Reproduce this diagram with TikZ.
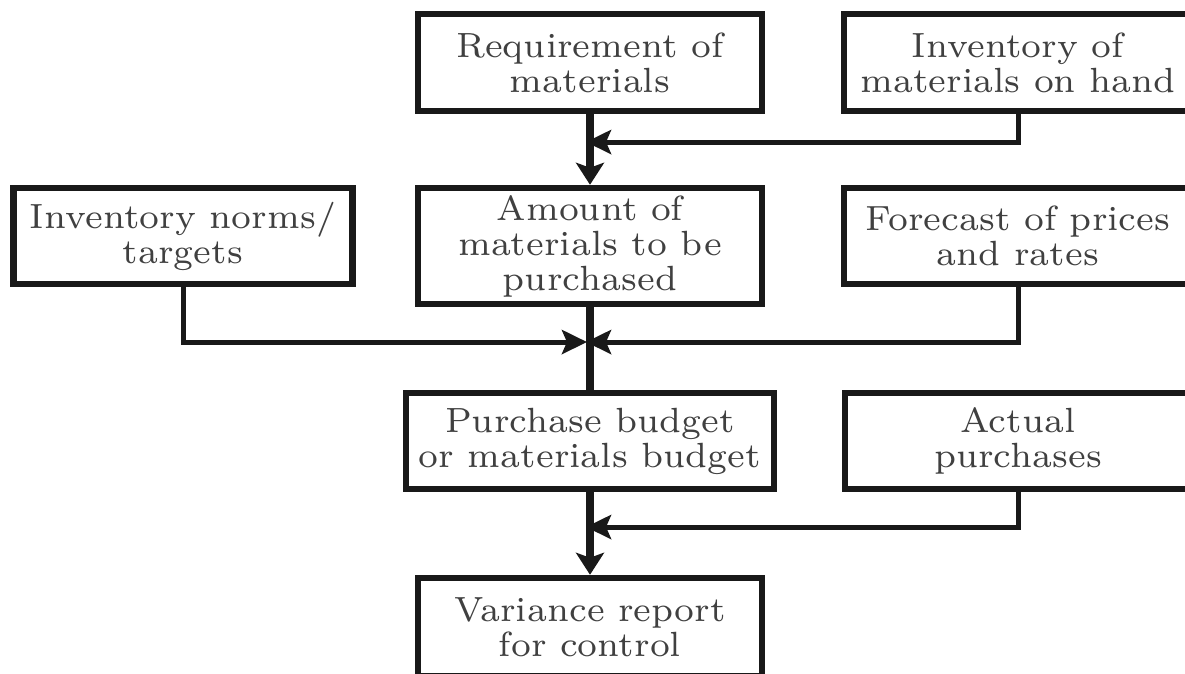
\documentclass[tikz,border=0pt]{standalone}
\usetikzlibrary{arrows.meta}
\begin{document}
\begin{tikzpicture}[x=0.2pt,y=-0.2pt,
  box/.style={draw=black!90, line width=1.3pt, align=center, inner sep=0pt,
    text=black!75, font=\fontsize{7}{7}\selectfont},
  size/.style 2 args={minimum width=#1*0.2pt, minimum height=#2*0.2pt},
  flow/.style={line width=1.6pt, draw=black!90},
  feed/.style={line width=1pt, draw=black!90},
  tip/.style={-{Stealth[length=4.4pt,width=5.6pt,inset=1pt]}},
  sidetip/.style={-{Stealth[length=5pt,width=4.8pt,inset=1pt]}}
]
\useasboundingbox (0,0) rectangle (1185,673);
\begin{scope}
\clip (0,0) rectangle (1185,673);

% boxes
\node[box, size={344}{97}]  (req)  at (590,62.5) {Requirement of\\materials};
\node[box, size={348}{97}]  (hand) at (1018,62.5) {Inventory of\\materials on hand};
\node[box, size={344}{116}] (amt)  at (590,246) {Amount of\\materials to be\\purchased};
\node[box, size={339}{96}]  (norm) at (183,236) {Inventory norms/\\targets};
\node[box, size={348}{96}]  (fore) at (1018,236) {Forecast of prices\\and rates};
\node[box, size={368}{96}]  (bud)  at (590,441) {Purchase budget\\or materials budget};
\node[box, size={346}{96}]  (act)  at (1018,441) {Actual\\purchases};
\node[box, size={344}{98}]  (var)  at (590,627) {Variance report\\for control};

% junction points on the main flow line
\coordinate (j1) at (req.south |- 0,142);
\coordinate (j2) at (amt.south |- 0,342);
\coordinate (j3) at (bud.south |- 0,527);

% main flow
\draw[flow, tip] (req.south) -- (amt.north);
\draw[flow] (amt.south) -- (bud.north);
\draw[flow, tip] (bud.south) -- (var.north);

% side inputs
\draw[feed, sidetip, shorten >=-0.8pt] (hand.south) |- (j1);
\draw[feed, sidetip, shorten >=0.6pt] (norm.south) |- (j2);
\draw[feed, sidetip, shorten >=-0.8pt] (fore.south) |- (j2);
\draw[feed, sidetip, shorten >=-0.8pt] (act.south) |- (j3);
\end{scope}
\end{tikzpicture}
\end{document}
